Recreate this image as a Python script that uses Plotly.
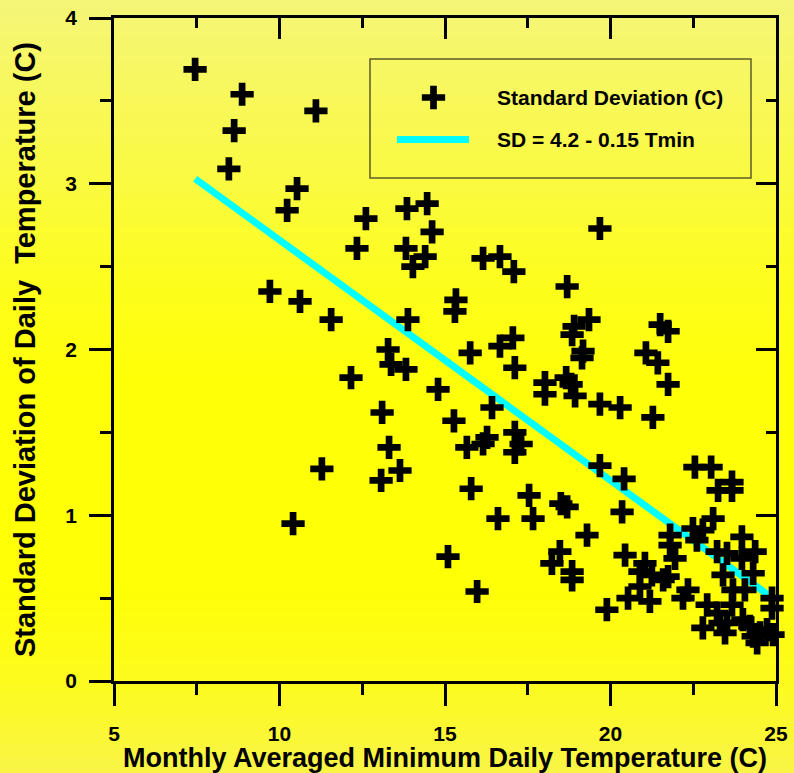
import plotly.graph_objects as go

# ---------------- data ----------------
tmin = [7.45, 8.87, 8.63, 8.47, 11.10, 10.53, 10.23, 12.61, 12.34, 13.85,
        14.46, 14.61, 13.82, 14.03, 14.40, 9.71, 10.62, 11.56, 13.88, 15.33,
        15.30, 15.76, 12.16, 13.28, 13.37, 13.82, 16.15, 16.66, 17.08, 19.68,
        18.69, 16.66, 17.05, 17.11, 13.10, 13.31, 13.07, 13.64, 11.28, 10.41,
        14.79, 15.27, 15.66, 15.79, 16.27, 16.15, 16.42, 15.09, 15.97, 16.60,
        17.11, 17.11, 17.30, 17.54, 17.66, 18.02, 18.02, 18.66, 18.93, 18.81,
        18.84, 18.90, 19.35, 19.17, 19.14, 18.50, 18.69, 19.29, 18.23, 18.47,
        18.84, 18.84, 19.68, 20.29, 19.68, 20.41, 20.35, 19.89, 21.50, 21.74,
        21.07, 21.43, 21.74, 21.28, 22.55, 23.04, 23.67, 23.25, 23.67, 20.44,
        21.80, 21.80, 21.95, 22.49, 23.10, 22.79, 22.61, 23.97, 24.37, 23.22,
        23.52, 23.97, 23.40, 24.31, 24.06, 23.70, 23.67, 24.88, 24.88, 21.04,
        20.89, 21.25, 21.59, 21.74, 20.89, 20.53, 21.19, 22.34, 22.19, 22.92,
        23.22, 22.79, 23.31, 23.52, 23.46, 24.00, 24.21, 24.52, 24.43, 24.91,
        24.73, 24.31]
sd = [3.69, 3.54, 3.32, 3.09, 3.44, 2.97, 2.84, 2.79, 2.61, 2.85,
      2.88, 2.71, 2.61, 2.50, 2.56, 2.35, 2.29, 2.18, 2.18, 2.30,
      2.23, 1.98, 1.83, 2.00, 1.91, 1.88, 2.55, 2.56, 2.47, 2.73,
      2.38, 2.02, 2.07, 1.89, 1.62, 1.41, 1.21, 1.27, 1.28, 0.95,
      1.76, 1.57, 1.41, 1.16, 1.47, 1.43, 1.65, 0.75, 0.54, 0.98,
      1.50, 1.38, 1.43, 1.12, 0.98, 1.80, 1.73, 1.83, 1.72, 1.79,
      2.09, 2.14, 2.18, 1.99, 1.95, 1.07, 1.05, 0.88, 0.71, 0.78,
      0.66, 0.61, 1.67, 1.65, 1.30, 1.22, 1.02, 0.43, 2.15, 2.11,
      1.98, 1.92, 1.79, 1.59, 1.29, 1.29, 1.20, 1.15, 1.15, 0.76,
      0.88, 0.82, 0.74, 0.92, 0.98, 0.91, 0.85, 0.87, 0.78, 0.78,
      0.77, 0.74, 0.64, 0.65, 0.55, 0.55, 0.46, 0.50, 0.44, 0.71,
      0.66, 0.64, 0.61, 0.63, 0.57, 0.50, 0.48, 0.55, 0.50, 0.46,
      0.41, 0.32, 0.35, 0.35, 0.29, 0.37, 0.33, 0.29, 0.23, 0.28,
      0.31, 0.27]
fit_x = [7.45, 24.76]
fit_y = [3.03, 0.52]

x_range = [5, 25]
y_range = [0, 4]
x_major, x_minor = 5, 2.5
y_major, y_minor = 1, 0.5

series_name = "Standard Deviation (C)"
fit_name = "SD = 4.2 - 0.15 Tmin"
x_title = "Monthly Averaged Minimum Daily Temperature (C)"
y_title = "Standard Deviation of Daily  Temperature (C)"

# ---------------- layout geometry / style ----------------
W, H = 794, 773
L, R, T, B = 114, 18, 18, 92
PW, PH = W - L - R, H - T - B
FONT = "Liberation Sans, Arial, sans-serif"


def px_to_paper(px, py):
    return (px - L) / PW, (H - B - py) / PH


# vertical background gradient (pixel y, rgb)
bg_stops = [(0, (245, 245, 120)), (70, (247, 247, 100)), (180, (250, 250, 65)),
            (280, (253, 253, 30)), (380, (255, 255, 8)), (580, (255, 255, 5)),
            (680, (253, 251, 30)), (773, (249, 244, 70))]


def bg_color(py):
    for (y0, c0), (y1, c1) in zip(bg_stops[:-1], bg_stops[1:]):
        if y0 <= py <= y1:
            t = (py - y0) / (y1 - y0)
            return "rgb(%d,%d,%d)" % tuple(round(a + (b - a) * t) for a, b in zip(c0, c1))
    return "rgb(%d,%d,%d)" % bg_stops[-1][1]


shapes = []
step = 6
for py in range(0, H, step):
    _, y_top = px_to_paper(0, py)
    _, y_bot = px_to_paper(0, py + step + 1)
    x0, _ = px_to_paper(0, 0)
    x1, _ = px_to_paper(W, 0)
    shapes.append(dict(type="rect", xref="paper", yref="paper", x0=x0, x1=x1,
                       y0=y_bot, y1=y_top, fillcolor=bg_color(py + step / 2),
                       line=dict(width=0), layer="below"))

# manual legend
bx0, by0 = px_to_paper(370, 178)
bx1, by1 = px_to_paper(751, 59)
shapes.append(dict(type="rect", xref="paper", yref="paper", x0=bx0, x1=bx1, y0=by0, y1=by1,
                   line=dict(color="#5c5c2a", width=1.5), fillcolor="rgba(0,0,0,0)", layer="above"))
cx, cy = px_to_paper(433.5, 97.5)
a, h = 11.65, 3.35
cross_path = ("M%.2f,%.2f H%.2f V%.2f H%.2f V%.2f H%.2f V%.2f H%.2f V%.2f H%.2f V%.2f H%.2f Z"
              % (-a, -h, -h, -a, h, -h, a, h, h, a, -h, h, -a))
shapes.append(dict(type="path", xref="paper", yref="paper", xsizemode="pixel", ysizemode="pixel",
                   xanchor=cx, yanchor=cy, path=cross_path, fillcolor="black", line=dict(width=0),
                   layer="above"))
lx0, ly = px_to_paper(397, 139.5)
lx1, _ = px_to_paper(469, 139.5)
shapes.append(dict(type="line", xref="paper", yref="paper", x0=lx0, x1=lx1, y0=ly, y1=ly,
                   line=dict(color="#00FFFF", width=7), layer="above"))

annotations = []
tx, ty1 = px_to_paper(495, 97.5)
_, ty2 = px_to_paper(495, 139.5)
for txt, yy in [(series_name, ty1), (fit_name, ty2)]:
    annotations.append(dict(text=txt, xref="paper", yref="paper", x=tx, y=yy, xanchor="left",
                            yanchor="middle", showarrow=False,
                            font=dict(family=FONT, size=21, color="black", weight="bold")))

fig = go.Figure()
fig.add_trace(go.Scatter(x=fit_x, y=fit_y, mode="lines", name=fit_name,
                         line=dict(color="#00FFFF", width=7), showlegend=False, cliponaxis=False))
fig.add_trace(go.Scatter(x=tmin, y=sd, mode="markers", name=series_name, showlegend=False,
                         cliponaxis=False,
                         marker=dict(symbol="cross-thin", size=16.6, color="black",
                                     line=dict(width=6.7, color="black"))))
# empty trace so the mirrored top/right frame axes get drawn
fig.add_trace(go.Scatter(x=[None], y=[None], xaxis="x2", yaxis="y2", mode="markers",
                         showlegend=False, hoverinfo="skip"))

axis_common = dict(showgrid=False, zeroline=False, showline=True, linecolor="black",
                   linewidth=2.5, tickcolor="black", tickwidth=2.5, automargin=False)
tickfont = dict(family=FONT, size=21, color="black", weight="bold")

fig.update_layout(
    width=W, height=H, margin=dict(l=L, r=R, t=T, b=B, pad=0),
    paper_bgcolor="rgb(255,255,0)", plot_bgcolor="rgba(0,0,0,0)",
    showlegend=False, shapes=shapes, annotations=annotations,
    xaxis=dict(range=x_range, tick0=x_range[0], dtick=x_major, ticks="outside", ticklen=22,
               tickfont=tickfont, ticklabelstandoff=10,
               minor=dict(dtick=x_minor, ticks="outside", ticklen=11, tickwidth=2.5,
                          tickcolor="black", showgrid=False),
               title=dict(text=x_title, standoff=1,
                          font=dict(family=FONT, size=27, color="black", weight="bold")),
               **axis_common),
    yaxis=dict(range=y_range, tick0=0, dtick=y_major, ticks="outside", ticklen=22,
               tickfont=tickfont, ticklabelstandoff=8,
               minor=dict(dtick=y_minor, ticks="outside", ticklen=11, tickwidth=2.5,
                          tickcolor="black", showgrid=False),
               title=dict(text=y_title, standoff=22,
                          font=dict(family=FONT, size=29, color="black", weight="bold")),
               **axis_common),
    xaxis2=dict(range=x_range, overlaying="x", side="top", anchor="y2", tick0=x_range[0],
                dtick=x_major, ticks="inside", ticklen=21, showticklabels=False,
                minor=dict(dtick=x_minor, ticks="inside", ticklen=10, tickwidth=2.5,
                           tickcolor="black", showgrid=False),
                **axis_common),
    yaxis2=dict(range=y_range, overlaying="y", side="right", anchor="x2", tick0=0,
                dtick=y_major, ticks="inside", ticklen=20, showticklabels=False,
                minor=dict(dtick=y_minor, ticks="inside", ticklen=10, tickwidth=2.5,
                           tickcolor="black", showgrid=False),
                **axis_common),
)

fig.write_html("out.html")
